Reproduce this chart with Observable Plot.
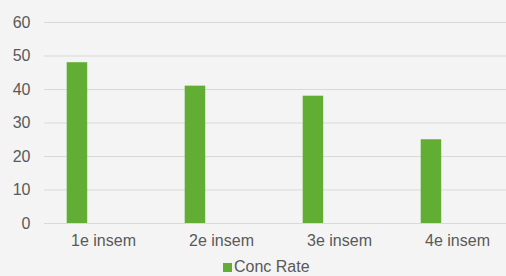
<!DOCTYPE html>
<html><head><meta charset="utf-8">
<script src="https://cdn.jsdelivr.net/npm/d3@7"></script>
<script src="https://cdn.jsdelivr.net/npm/@observablehq/plot@0.6"></script>
<style>
html,body{margin:0;padding:0;background:#f4f4f4;font-family:"Liberation Sans",Arial,sans-serif;}
#chart svg{display:block;}
#legend{display:flex;align-items:center;height:20px;padding-top:3px;margin-left:223px;font-size:16px;color:#595959;}
#legend .sw{width:9px;height:9px;background:#62ae34;margin-right:2px;}
</style></head><body>
<div id="chart"></div>
<div id="legend"><span class="sw"></span><span id="lt"></span></div>
<script>
const categories = ["1e insem", "2e insem", "3e insem", "4e insem"];
const concRate = [48, 41, 38, 25];
const seriesName = "Conc Rate";
const yTicks = [0, 10, 20, 30, 40, 50, 60];

const data = categories.map((c, i) => ({category: c, value: concRate[i]}));

const chart = Plot.plot({
  width: 506, height: 254,
  marginLeft: 44, marginRight: 0, marginTop: 22, marginBottom: 31,
  style: {background: "transparent", fontFamily: "'Liberation Sans', Arial, sans-serif", fontSize: "16px", color: "#595959"},
  x: {domain: categories, range: [44, 516], padding: 0, label: null},
  y: {domain: [0, 60], label: null},
  marks: [
    Plot.gridY(yTicks, {stroke: "#d9d9d9", strokeOpacity: 1, strokeWidth: 1}),
    Plot.barY(data, {x: "category", y: "value", fill: "#62ae34", insetLeft: 22.7, insetRight: 74.8}),
    Plot.axisY(yTicks, {tickSize: 0, tickPadding: 14, label: null, fill: "#595959"}),
    Plot.axisX({tickSize: 0, tickPadding: 11, label: null, fill: "#595959"})
  ]
});
document.getElementById("chart").appendChild(chart);
document.getElementById("lt").textContent = seriesName;
</script>
</body></html>
